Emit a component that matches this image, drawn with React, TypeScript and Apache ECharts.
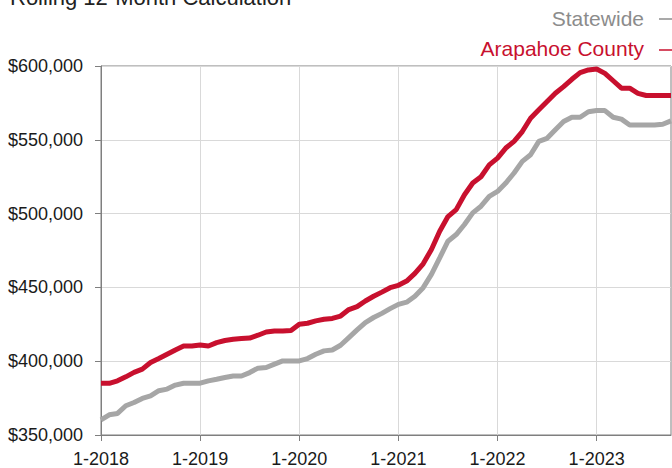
import React, { useEffect, useRef } from "react";
import * as echarts from "echarts";

const years = [2018, 2019, 2020, 2021, 2022, 2023];
const lastMonth2023 = 10;
const categories: string[] = [];
years.forEach((y) => {
  const n = y === 2023 ? lastMonth2023 : 12;
  for (let m = 1; m <= n; m++) categories.push(`${m}-${y}`);
});

const arapahoe = [
  385.0, 385.0, 386.7, 389.4, 392.4, 394.6, 399.1, 401.8, 404.7, 407.6, 410.3, 410.3,
  411.0, 410.3, 412.6, 414.0, 414.9, 415.3, 415.7, 417.6, 419.8, 420.5, 420.5, 420.8,
  425.0, 425.7, 427.3, 428.4, 429.0, 430.6, 435.0, 437.0, 440.8, 444.0, 446.8, 449.8,
  451.4, 454.3, 459.5, 466.0, 475.7, 488.0, 498.0, 502.7, 512.8, 520.7, 525.0, 533.0,
  537.6, 544.4, 548.9, 555.6, 564.6, 570.3, 575.9, 581.5, 586.0, 591.0, 595.5, 597.3,
  598.0, 595.0, 590.0, 585.0, 585.0, 581.5, 580.0, 580.0, 580.0, 580.0,
];

const statewide = [
  360.3, 363.7, 364.6, 369.8, 372.0, 374.8, 376.5, 380.0, 381.1, 383.8, 385.1, 385.1,
  385.1, 386.7, 387.8, 389.0, 390.0, 390.0, 392.3, 395.3, 395.7, 398.0, 400.2, 400.2,
  400.2, 401.8, 404.7, 407.0, 407.6, 410.8, 416.0, 421.2, 426.2, 429.6, 432.4, 435.6,
  438.5, 440.0, 444.0, 449.8, 458.8, 470.0, 481.3, 485.8, 492.6, 500.5, 505.0, 511.7,
  515.0, 520.7, 527.5, 535.4, 539.9, 548.9, 551.0, 556.8, 562.4, 565.3, 565.3, 569.0,
  569.8, 569.8, 565.3, 564.0, 560.0, 560.0, 560.0, 560.0, 560.5, 562.8,
];

const seriesNames = ["Statewide", "Arapahoe County"];
const titleText = "Rolling 12-Month Calculation";

const RED = "#C8102E";
const GRAY = "#A6A6A6";
const FONT = "'Liberation Sans', Arial, Helvetica, sans-serif";

export default function App() {
  const ref = useRef<HTMLDivElement>(null);
  useEffect(() => {
    document.body.style.margin = "0";
    if (!ref.current) return;
    const chart = echarts.init(ref.current, null, { renderer: "svg" });
    const fmt = (v: number) => "$" + v.toLocaleString("en-US");
    chart.setOption({
      animation: false,
      textStyle: { fontFamily: FONT },
      grid: {
        left: 101,
        right: 1,
        top: 66,
        bottom: 32,
        show: true,
        borderColor: "#7f7f7f",
        borderWidth: 1,
      },
      graphic: [
        {
          type: "text",
          x: 10,
          y: -3,
          style: {
            text: titleText,
            fill: "#222",
            font: `22px ${FONT}`,
            verticalAlign: "middle",
          },
        },
        {
          type: "text",
          x: 644,
          y: 18,
          style: {
            text: seriesNames[0],
            fill: "#8c8c8c",
            font: `21px ${FONT}`,
            align: "right",
            verticalAlign: "middle",
          },
        },
        {
          type: "line",
          shape: { x1: 659, y1: 19, x2: 672, y2: 19 },
          style: { stroke: "#8c8c8c", lineWidth: 1.5 },
        },
        {
          type: "text",
          x: 644,
          y: 48,
          style: {
            text: seriesNames[1],
            fill: RED,
            font: `21px ${FONT}`,
            align: "right",
            verticalAlign: "middle",
          },
        },
        {
          type: "line",
          shape: { x1: 659, y1: 50, x2: 672, y2: 50 },
          style: { stroke: RED, lineWidth: 1.5 },
        },
      ],
      xAxis: {
        type: "category",
        data: categories,
        boundaryGap: false,
        axisLine: { lineStyle: { color: "#7f7f7f", width: 1 } },
        axisTick: { interval: 11, length: 6, lineStyle: { color: "#7f7f7f" } },
        axisLabel: {
          interval: 11,
          color: "#1a1a1a",
          fontSize: 18,
          fontFamily: FONT,
          margin: 15,
        },
        splitLine: { show: true, interval: 11, lineStyle: { color: "#d9d9d9", width: 1 } },
      },
      yAxis: {
        type: "value",
        min: 350000,
        max: 600000,
        interval: 50000,
        axisLine: { show: true, lineStyle: { color: "#7f7f7f", width: 1 } },
        axisTick: { show: true, length: 6, lineStyle: { color: "#7f7f7f" } },
        axisLabel: {
          color: "#1a1a1a",
          fontSize: 18,
          fontFamily: FONT,
          margin: 18,
          formatter: fmt,
        },
        splitLine: { show: true, lineStyle: { color: "#d9d9d9", width: 1 } },
      },
      series: [
        {
          name: seriesNames[0],
          type: "line",
          data: statewide.map((v) => v * 1000),
          showSymbol: false,
          lineStyle: { color: GRAY, width: 5 },
          itemStyle: { color: GRAY },
        },
        {
          name: seriesNames[1],
          type: "line",
          data: arapahoe.map((v) => v * 1000),
          showSymbol: false,
          lineStyle: { color: RED, width: 5 },
          itemStyle: { color: RED },
        },
      ],
    });
    return () => chart.dispose();
  }, []);
  return <div ref={ref} style={{ width: 672, height: 468 }} />;
}
